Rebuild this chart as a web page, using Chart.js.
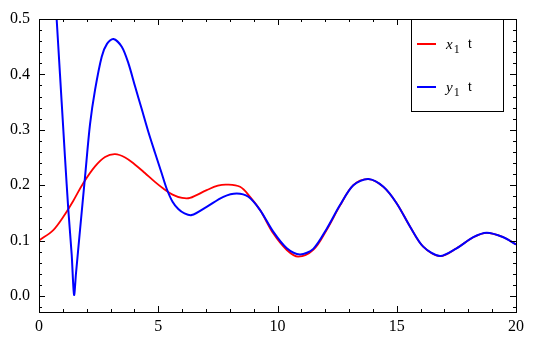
<!DOCTYPE html>
<html lang="en">
<head>
<meta charset="UTF-8">
<title>x1 t / y1 t</title>
<script src="https://cdn.jsdelivr.net/npm/chart.js"></script>
<style>
  html, body { margin: 0; padding: 0; background: #fff; }
  #wrap { width: 535px; height: 342px; }
</style>
</head>
<body>
<div id="wrap"><canvas id="plot" width="535" height="342"></canvas></div>
<script>
// values
const tRed = [0, 0.6, 1.02, 1.44, 1.86, 2.35, 2.77, 3.19, 3.61, 4.03, 4.44, 4.86, 5.21, 5.6, 6.0, 6.33, 7.03, 7.5, 7.87, 8.43, 8.85, 9.27, 9.82, 10.39, 10.87, 11.5, 12.06, 12.62, 13.18, 13.81, 14.44, 15.0, 15.56, 16.11, 16.81, 17.51, 18.21, 18.77, 19.47, 20.0];
const xRed = [0.100, 0.119, 0.143, 0.172, 0.204, 0.234, 0.251, 0.256, 0.250, 0.237, 0.222, 0.206, 0.194, 0.183, 0.177, 0.177, 0.191, 0.199, 0.201, 0.197, 0.179, 0.155, 0.113, 0.083, 0.071, 0.083, 0.119, 0.163, 0.200, 0.211, 0.197, 0.167, 0.125, 0.089, 0.072, 0.086, 0.106, 0.114, 0.106, 0.093];

const tBlue = [0.6, 0.74, 0.88, 1.02, 1.09, 1.23, 1.37, 1.47, 1.55, 1.72, 1.93, 2.14, 2.35, 2.63, 2.85, 3.12, 3.47, 3.75, 4.03, 4.31, 4.58, 4.86, 5.14, 5.35, 5.6, 5.84, 6.1, 6.4, 7.03, 7.73, 8.29, 8.78, 9.27, 9.82, 10.39, 10.94, 11.5, 12.06, 12.62, 13.18, 13.81, 14.44, 15.0, 15.56, 16.11, 16.81, 17.51, 18.21, 18.77, 19.47, 20.0];
const yBlue = [0.600, 0.500, 0.400, 0.300, 0.250, 0.155, 0.075, 0.002, 0.040, 0.119, 0.215, 0.310, 0.372, 0.432, 0.455, 0.464, 0.450, 0.420, 0.378, 0.337, 0.297, 0.259, 0.222, 0.194, 0.170, 0.157, 0.149, 0.146, 0.161, 0.179, 0.185, 0.179, 0.155, 0.116, 0.086, 0.075, 0.085, 0.121, 0.164, 0.200, 0.211, 0.197, 0.167, 0.125, 0.089, 0.072, 0.086, 0.106, 0.114, 0.106, 0.093];

const xTicks = [0, 5, 10, 15, 20];
const yTicks = [0.0, 0.1, 0.2, 0.3, 0.4, 0.5];

const seriesNames = ['x', 'y'];

const serif = '"Liberation Serif", "Times New Roman", "DejaVu Serif", serif';

const toPoints = (ts, vs) => ts.map((t, i) => ({ x: t, y: vs[i] }));

// frame + inward ticks on all four sides, like a Mathematica frame
const framePlugin = {
    id: 'frame',
    afterDraw(chart) {
        const ctx = chart.ctx;
        const a = chart.chartArea;
        const xs = chart.scales.x, ys = chart.scales.y;
        ctx.save();
        ctx.strokeStyle = '#000';
        ctx.lineWidth = 1;
        ctx.strokeRect(Math.round(a.left) + 0.5, Math.round(a.top) + 0.5,
                       Math.round(a.right - a.left), Math.round(a.bottom - a.top));
        ctx.beginPath();
        for (let v = 0; v <= 20; v += 1) {
            const px = Math.round(xs.getPixelForValue(v)) + 0.5;
            const len = v % 5 === 0 ? 6 : 3;
            ctx.moveTo(px, a.bottom); ctx.lineTo(px, a.bottom - len);
            ctx.moveTo(px, a.top); ctx.lineTo(px, a.top + len);
        }
        for (let k = -1; k <= 25; k++) {
            const v = k * 0.02;
            const py = Math.round(ys.getPixelForValue(v)) + 0.5;
            if (py < a.top || py > a.bottom) continue;
            const len = k % 5 === 0 ? 6 : 3;
            ctx.moveTo(a.left, py); ctx.lineTo(a.left + len, py);
            ctx.moveTo(a.right, py); ctx.lineTo(a.right - len, py);
        }
        ctx.stroke();

        // legend box
        const bx = 411.5, by = 19.5, bw = 92, bh = 92;
        ctx.fillStyle = '#fff';
        ctx.fillRect(bx, by, bw, bh);
        ctx.strokeRect(bx, by, bw, bh);
        chart.data.datasets.forEach((ds, i) => {
            const ly = 44 + i * 43;
            ctx.strokeStyle = ds.borderColor;
            ctx.lineWidth = 2;
            ctx.beginPath();
            ctx.moveTo(417, ly); ctx.lineTo(436, ly);
            ctx.stroke();
            ctx.fillStyle = '#000';
            ctx.textBaseline = 'alphabetic';
            ctx.textAlign = 'left';
            ctx.font = 'italic 15px ' + serif;
            ctx.fillText(seriesNames[i], 446, ly + 5);
            const w = ctx.measureText(seriesNames[i]).width;
            ctx.font = '12px ' + serif;
            ctx.fillText('1', 447 + w, ly + 9);
            ctx.font = '13px "Liberation Sans", Arial, sans-serif';
            ctx.fillText('t', 468, ly + 4);
        });
        ctx.restore();
    }
};

new Chart(document.getElementById('plot').getContext('2d'), {
    type: 'line',
    data: {
        datasets: [
            {
                label: 'x1 t',
                data: toPoints(tRed, xRed),
                borderColor: '#ff0000',
                borderWidth: 1.8,
                pointRadius: 0,
                tension: 0.35,
                fill: false,
                order: 1
            },
            {
                label: 'y1 t',
                data: toPoints(tBlue, yBlue),
                borderColor: '#0000ff',
                borderWidth: 2,
                pointRadius: 0,
                tension: 0.3,
                fill: false,
                order: 0
            }
        ]
    },
    options: {
        responsive: false,
        animation: false,
        layout: { padding: { top: 19, right: 19, left: 0, bottom: 0 } },
        plugins: {
            legend: { display: false },
            tooltip: { enabled: false }
        },
        scales: {
            x: {
                type: 'linear',
                min: 0,
                max: 20,
                afterBuildTicks: s => { s.ticks = xTicks.map(v => ({ value: v })); },
                afterFit: s => { s.height = 30; },
                grid: { display: false, drawTicks: false },
                border: { display: false },
                ticks: {
                    color: '#000',
                    padding: 5,
                    maxRotation: 0,
                    font: { family: serif, size: 16 },
                    callback: v => String(v)
                }
            },
            y: {
                type: 'linear',
                min: -0.029,
                max: 0.5,
                afterBuildTicks: s => { s.ticks = yTicks.map(v => ({ value: v })); },
                afterFit: s => { s.width = 39; },
                grid: { display: false, drawTicks: false },
                border: { display: false },
                ticks: {
                    color: '#000',
                    padding: 9,
                    font: { family: serif, size: 16 },
                    callback: v => v.toFixed(1)
                }
            }
        }
    },
    plugins: [framePlugin]
});
</script>
</body>
</html>
